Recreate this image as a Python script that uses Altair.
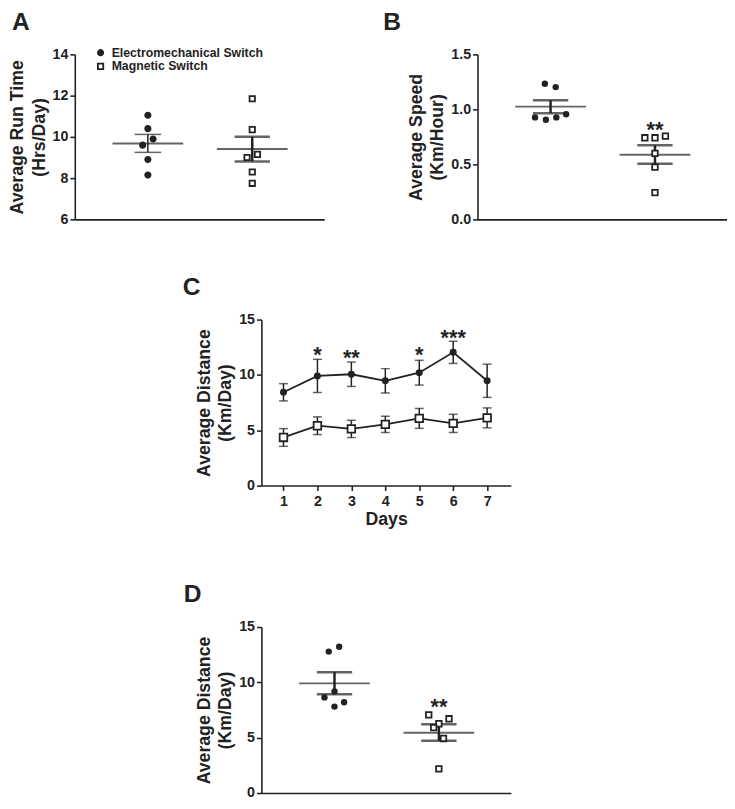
import altair as alt
import pandas as pd

FONT = "Liberation Sans"
INK = "#222222"
GROUPS = ["Electromechanical Switch", "Magnetic Switch"]
PANEL_LABELS = ["A", "B", "C", "D"]

# ---------- Panel A: average run time (Hrs/Day) ----------
a_elec = [11.05, 10.4, 9.9, 9.6, 8.9, 8.15]
a_elec_dx = [0, 0, 0.05, -0.05, 0, 0]
a_mag = [11.85, 10.35, 9.15, 9.0, 8.3, 7.75]
a_mag_dx = [0, 0, 0.05, -0.05, 0, 0]
a_mean = [9.68, 9.41]
a_hi = [10.12, 10.01]
a_lo = [9.25, 8.81]

# ---------- Panel B: average speed (Km/Hour) ----------
b_elec = [1.233, 1.203, 0.927, 0.906, 0.927, 0.956]
b_elec_dx = [-0.055, 0.049, -0.149, -0.045, 0.055, 0.149]
b_mag = [0.742, 0.742, 0.757, 0.60, 0.475, 0.244]
b_mag_dx = [-0.097, 0, 0.10, 0, 0, 0]
b_mean = [1.025, 0.588]
b_hi = [1.084, 0.674]
b_lo = [0.965, 0.505]
b_star = 0.857

# ---------- Panel C: average distance per day ----------
days = [1, 2, 3, 4, 5, 6, 7]
c_elec = [8.43, 9.91, 10.06, 9.47, 10.2, 12.04, 9.47]
c_elec_err = [0.78, 1.5, 1.1, 1.1, 1.12, 1.0, 1.5]
c_mag = [4.35, 5.41, 5.12, 5.53, 6.07, 5.62, 6.12]
c_mag_err = [0.8, 0.8, 0.78, 0.74, 0.9, 0.82, 0.9]
c_star_days = [2, 3, 5, 6]
c_star_text = ["*", "**", "*", "***"]
c_star_y = [12.27, 11.98, 12.27, 13.81]

# ---------- Panel D: average distance (Km/Day) ----------
d_elec = [12.78, 13.22, 8.64, 9.17, 7.81, 8.2]
d_elec_dx = [-0.055, 0.045, -0.096, 0, 0, 0.092]
d_mag = [7.06, 6.71, 6.26, 5.91, 4.93, 2.18]
d_mag_dx = [-0.097, 0.097, 0, -0.05, 0.044, 0]
d_mean = [9.91, 5.44]
d_hi = [10.92, 6.21]
d_lo = [8.93, 4.73]
d_star = 8.19

W = 254
XDOM = [0.3, 2.69]


def panel_label(text, dx):
    return alt.Chart(pd.DataFrame({"l": [text]})).mark_text(
        fontSize=25, fontWeight="bold", color=INK, align="left", baseline="top", font=FONT
    ).encode(x=alt.value(dx), y=alt.value(-45), text="l:N")


def pts_frame(elec, elec_dx, mag, mag_dx):
    rows = []
    for v, dx in zip(elec, elec_dx):
        rows.append({"x": 1 + dx, "y": v, "group": GROUPS[0]})
    for v, dx in zip(mag, mag_dx):
        rows.append({"x": 2 + dx, "y": v, "group": GROUPS[1]})
    return pd.DataFrame(rows)


def stats_frame(mean, hi, lo):
    return pd.DataFrame({"g": [1, 2], "mean": mean, "hi": hi, "lo": lo, "group": GROUPS})


def xenc(field):
    return alt.X(field, type="quantitative",
                 scale=alt.Scale(domain=XDOM, nice=False, zero=False),
                 axis=alt.Axis(labels=False, ticks=False, title=None))


def yenc(field, dom, vals, title, fmt):
    return alt.Y(field, type="quantitative",
                 scale=alt.Scale(domain=dom, nice=False, zero=False),
                 axis=alt.Axis(values=vals, title=title, format=fmt))


def scatter_panel(pts, st, dom, vals, title, fmt, label, label_dx, height,
                  star=None, legend=False, thin_first=False):
    ydef = lambda f: yenc(f, dom, vals, title, fmt)
    layers = []
    st1 = st[st.g == 1]
    st2 = st[st.g == 2]
    layers.append(alt.Chart(st).mark_tick(orient="horizontal", size=72, thickness=2, color=INK)
                  .encode(x=xenc("g"), y=ydef("mean")))
    w1 = 1.5 if thin_first else 2.5
    c1 = 27 if thin_first else 36
    layers.append(alt.Chart(st1).mark_rule(strokeWidth=w1, color=INK)
                  .encode(x=xenc("g"), y=ydef("lo"), y2="hi"))
    layers.append(alt.Chart(st2).mark_rule(strokeWidth=2.5, color=INK)
                  .encode(x=xenc("g"), y=ydef("lo"), y2="hi"))
    st1l = st1.melt(id_vars=["g"], value_vars=["hi", "lo"], value_name="v")
    st2l = st2.melt(id_vars=["g"], value_vars=["hi", "lo"], value_name="v")
    layers.append(alt.Chart(st1l).mark_tick(orient="horizontal", size=c1, thickness=w1, color=INK)
                  .encode(x=xenc("g"), y=ydef("v")))
    layers.append(alt.Chart(st2l).mark_tick(orient="horizontal", size=36, thickness=2.5, color=INK)
                  .encode(x=xenc("g"), y=ydef("v")))
    if legend:
        lg = alt.Legend(orient="none", legendX=20, legendY=-8, title=None,
                        labelFontSize=12.5, labelFontWeight="bold", labelFont=FONT,
                        labelColor=INK, symbolSize=30, symbolStrokeWidth=1.8,
                        symbolStrokeColor=INK, rowPadding=0, labelOffset=5)
        layers.append(alt.Chart(pts).mark_point(strokeWidth=1.8, opacity=1, size=30)
                      .encode(x=xenc("x"), y=ydef("y"),
                              fill=alt.Fill("group:N", scale=alt.Scale(domain=GROUPS, range=[INK, "white"]), legend=lg),
                              stroke=alt.Stroke("group:N", scale=alt.Scale(domain=GROUPS, range=[INK, INK]), legend=lg),
                              shape=alt.Shape("group:N", scale=alt.Scale(domain=GROUPS, range=["circle", "square"]), legend=lg)))
    else:
        p1 = pts[pts.group == GROUPS[0]]
        p2 = pts[pts.group == GROUPS[1]]
        layers.append(alt.Chart(p1).mark_point(shape="circle", filled=True, color=INK, size=42, opacity=1)
                      .encode(x=xenc("x"), y=ydef("y")))
        layers.append(alt.Chart(p2).mark_point(shape="square", fill="white", stroke=INK, strokeWidth=1.8, size=32, opacity=1)
                      .encode(x=xenc("x"), y=ydef("y")))
    if star is not None:
        sdf = pd.DataFrame({"g": [2], "y": [star], "t": ["**"]})
        layers.append(alt.Chart(sdf).mark_text(fontSize=22, fontWeight="bold", color=INK,
                                              baseline="alphabetic", dy=12)
                      .encode(x=xenc("g"), y=ydef("y"), text="t:N"))
    layers.append(panel_label(label, label_dx))
    return alt.layer(*layers).properties(width=W, height=height)


A = scatter_panel(pts_frame(a_elec, a_elec_dx, a_mag, a_mag_dx), stats_frame(a_mean, a_hi, a_lo),
                  [6, 14], [6, 8, 10, 12, 14], ["Average Run Time", "(Hrs/Day)"], "d", PANEL_LABELS[0], -64, 168,
                  legend=True, thin_first=True)
B = scatter_panel(pts_frame(b_elec, b_elec_dx, b_mag, b_mag_dx), stats_frame(b_mean, b_hi, b_lo),
                  [0, 1.5], [0, 0.5, 1.0, 1.5], ["Average Speed", "(Km/Hour)"], ".1f", PANEL_LABELS[1], -96, 168,
                  star=b_star)
D = scatter_panel(pts_frame(d_elec, d_elec_dx, d_mag, d_mag_dx), stats_frame(d_mean, d_hi, d_lo),
                  [0, 15], [0, 5, 10, 15], ["Average Distance", "(Km/Day)"], "d", PANEL_LABELS[3], -79, 169,
                  star=d_star)

# ---------- Panel C chart ----------
cdf = pd.DataFrame({
    "day": days * 2,
    "v": c_elec + c_mag,
    "err": c_elec_err + c_mag_err,
    "group": [GROUPS[0]] * 7 + [GROUPS[1]] * 7,
})
cdf["lo"] = cdf["v"] - cdf["err"]
cdf["hi"] = cdf["v"] + cdf["err"]
ce = cdf[cdf.group == GROUPS[0]]
cm = cdf[cdf.group == GROUPS[1]]
cx = alt.X("day:Q", scale=alt.Scale(domain=[0.35, 7.7], nice=False, zero=False),
           axis=alt.Axis(values=days, title="Days", format="d", ticks=True))
cy = lambda f: alt.Y(f, type="quantitative", scale=alt.Scale(domain=[0, 15], nice=False),
                     axis=alt.Axis(values=[0, 5, 10, 15], title=["Average Distance", "(Km/Day)"]))
c_layers = []
for sub in (ce, cm):
    c_layers.append(alt.Chart(sub).mark_line(color=INK, strokeWidth=1.8).encode(x=cx, y=cy("v")))
    c_layers.append(alt.Chart(sub).mark_rule(color=INK, strokeWidth=1.5).encode(x=cx, y=cy("lo"), y2="hi"))
    cl = sub.melt(id_vars=["day"], value_vars=["hi", "lo"], value_name="e")
    c_layers.append(alt.Chart(cl).mark_tick(orient="horizontal", size=9, thickness=1.5, color=INK)
                    .encode(x=cx, y=cy("e")))
c_layers.append(alt.Chart(ce).mark_point(shape="circle", filled=True, color=INK, size=50, opacity=1)
                .encode(x=cx, y=cy("v")))
c_layers.append(alt.Chart(cm).mark_point(shape="square", fill="white", stroke=INK, strokeWidth=1.8, size=60, opacity=1)
                .encode(x=cx, y=cy("v")))
sdf = pd.DataFrame({"day": c_star_days, "y": c_star_y, "t": c_star_text})
c_layers.append(alt.Chart(sdf).mark_text(fontSize=22, fontWeight="bold", color=INK, baseline="alphabetic", dy=12)
                .encode(x=cx, y=cy("y"), text="t:N"))
c_layers.append(panel_label(PANEL_LABELS[2], -80))
C = alt.layer(*c_layers).properties(width=W, height=169)


def spacer(h):
    return alt.Chart(pd.DataFrame({"s": [0]})).mark_point(opacity=0).encode(
        x=alt.X("s:Q", axis=None), y=alt.Y("s:Q", axis=None)).properties(width=1, height=h)


row1 = alt.hconcat(A, B, spacing=60).resolve_scale(x="independent", y="independent")
row2 = alt.hconcat(spacer(169), C, spacing=189, bounds="flush").resolve_scale(x="independent", y="independent")
row3 = alt.hconcat(spacer(169), D, spacing=189, bounds="flush").resolve_scale(x="independent", y="independent")
top = alt.vconcat(row1, row2, spacing=50)
chart = alt.vconcat(top, row3, spacing=55).properties(
    padding={"top": -5, "left": 0, "right": 0, "bottom": 0}
).configure(
    font=FONT
).configure_view(stroke=None).configure_axis(
    grid=False, domainColor=INK, domainWidth=1.6, tickColor=INK, tickWidth=1.6, tickSize=5,
    labelFont=FONT, labelFontSize=14.5, labelFontWeight="bold", labelColor=INK, labelPadding=2,
    titleFont=FONT, titleFontSize=18, titleFontWeight="bold", titleColor=INK, titleLineHeight=22,
    titlePadding=4
).configure_axisX(labelPadding=4, titlePadding=3)

chart.save("out.html", embed_options={"renderer": "svg", "actions": False})
